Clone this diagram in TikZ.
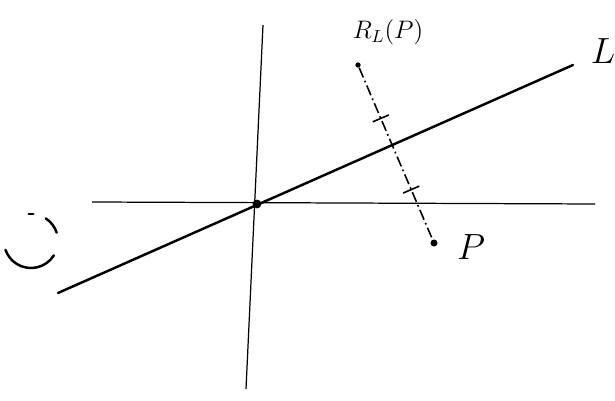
\documentclass[tikz,border=0pt]{standalone}
\usetikzlibrary{positioning, arrows.meta, calc}
\tikzset{
  axisline/.style={line width=0.7pt},
  lline/.style={line width=1.4pt, line cap=round},
  projline/.style={line width=0.9pt, dash pattern=on 6pt off 2pt on 1pt off 2pt},
  tickmark/.style={line width=0.9pt},
  ptdot/.style={circle, fill, inner sep=0pt, minimum size=4pt},
  lab/.style={font=\huge, inner sep=1pt},
}
\begin{document}
\begin{tikzpicture}[x=0.02cm, y=-0.02cm]
  \useasboundingbox (0,0) rectangle (615,401);
  % axes and the line L
  \coordinate (ytop) at (263,25);
  \coordinate (ybot) at (246,389);
  \coordinate (xleft) at (92,202);
  \coordinate (xright) at (595,204);
  \coordinate (lstart) at (58,293);
  \coordinate (lend) at (573,65);
  \draw[axisline] (ytop) -- (ybot);
  \draw[axisline] (xleft) -- (xright);
  \draw[lline] (lstart) -- (lend);
  \node[ptdot, minimum size=5pt] (origin) at (257,204) {};
  % point and its reflection
  \node[ptdot, minimum size=3pt] (refl) at (358,65) {};
  \node[ptdot] (pt) at (434,243) {};
  \draw[projline] (refl) -- (pt);
  \coordinate (tka) at ($(refl)!0.30!(pt)$);
  \coordinate (tkb) at ($(refl)!0.70!(pt)$);
  \draw[tickmark] ($(tka)!5pt!90:(pt)$) -- ($(tka)!5pt!-90:(pt)$);
  \draw[tickmark] ($(tkb)!5pt!90:(pt)$) -- ($(tkb)!5pt!-90:(pt)$);
  % labels
  \node[lab, font=\Large] (rlp) at (388,32) {$R_L(P)$};
  \node[lab] (llab) at (603,51) {$L$};
  \node[lab] (plab) at (471,247) {$P$};
  % broken circle on the left
  \draw[lline] (31,241) ++(32:27) arc (32:161:27);
  \draw[lline] (31,241) ++(-57:27) arc (-57:-18:27);
  \draw[lline] (31,241) ++(-95:27) arc (-95:-85:27);
\end{tikzpicture}
\end{document}
